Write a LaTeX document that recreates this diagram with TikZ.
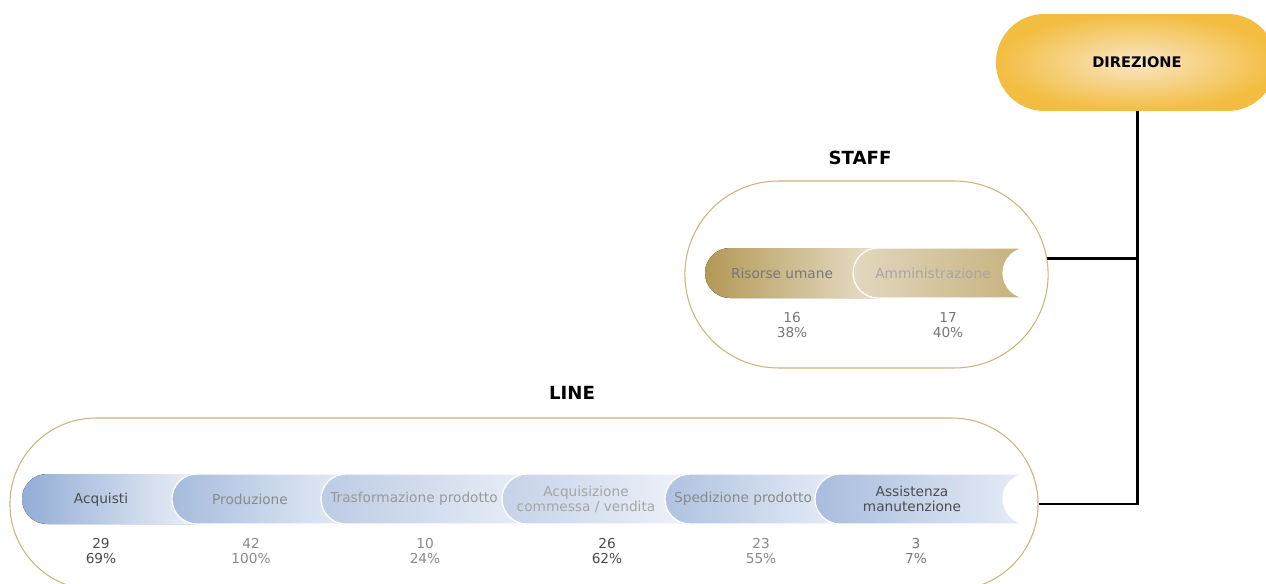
\documentclass[tikz,border=0pt]{standalone}
\usepackage{fontspec}
\setmainfont{DejaVu Sans}
\usetikzlibrary{shapes.misc}

\definecolor{gold}{HTML}{F2BD40}
\definecolor{goldlight}{HTML}{FAE6C6}
\definecolor{rim}{HTML}{CDB57A}
\definecolor{darktext}{HTML}{4D4D4D}
\definecolor{graytext}{HTML}{777777}
\definecolor{midtext}{HTML}{8A8A8A}
\definecolor{lighttext}{HTML}{999999}
\definecolor{palettext}{HTML}{A6A6A6}
% staff bars
\definecolor{risorseleft}{HTML}{B39956}
\definecolor{risorseright}{HTML}{E9E0CC}
\definecolor{amminleft}{HTML}{E2D8C0}
\definecolor{amminright}{HTML}{C6B07A}
% line bars
\definecolor{acqleft}{HTML}{93ADD6}
\definecolor{acqright}{HTML}{EDF1F8}
\definecolor{prodleft}{HTML}{A6BBDD}
\definecolor{prodright}{HTML}{E6ECF6}
\definecolor{trasfleft}{HTML}{BDCBE4}
\definecolor{trasfright}{HTML}{E9EEF7}
\definecolor{acqcommleft}{HTML}{C6D2E8}
\definecolor{acqcommright}{HTML}{EEF2F9}
\definecolor{spedleft}{HTML}{AFC2E0}
\definecolor{spedright}{HTML}{E6ECF6}
\definecolor{assistleft}{HTML}{A8BCDD}
\definecolor{assistright}{HTML}{E8EDF7}

\begin{document}
\begin{tikzpicture}[x=0.02cm,y=0.02cm]
		\tikzset{container/.style = {rounded rectangle, draw=rim, line width=0.6pt, fill=white}}
		\tikzset{seg/.style = {draw=white, line width=0.7pt}}
		\tikzset{bartext/.style = {font=\fontsize{7.8}{8.6}\selectfont, align=center}}
		\tikzset{figure/.style = {font=\fontsize{7.8}{8.6}\selectfont, align=center, text=midtext}}
		\tikzset{title/.style = {font=\bfseries\fontsize{10.3}{12}\selectfont}}

		\useasboundingbox (0,0) rectangle (1266,-584);

		\node[rounded rectangle, minimum width=5.84cm, minimum height=1.94cm, inner color=goldlight, outer color=gold] (dir) at (1136,-62.5) {};
		\node[font=\bfseries\fontsize{8.3}{10}\selectfont] (dirlabel) at (1137,-62) {DIREZIONE};

		\node[container, minimum width=7.5cm, minimum height=3.74cm] (staff) at (866.5,-274.5) {};
		\node[container, minimum width=20.8cm, minimum height=3.44cm] (line) at (524,-504) {};

		\node[title] (stafftitle) at (860,-158) {STAFF};
		\node[title] (linetitle) at (572,-393) {LINE};

		\draw[line width=1.7pt] (dirlabel.south |- dir.south) -- (dirlabel.south |- line.east) -- (line.east);
		\draw[line width=1.7pt] (staff.5) -- (staff.5 -| dirlabel.south);

		% staff
		\fill[left color=risorseleft, right color=risorseright] (730,-248) arc[start angle=90,end angle=270,radius=25] -- (880,-298) -- (880,-248) -- cycle;
		\draw[seg, left color=amminleft, right color=amminright] (878,-248) arc[start angle=90,end angle=270,radius=25] -- (1028,-298) arc[start angle=270,end angle=90,radius=25] -- cycle;

		\node[bartext, text=graytext] (risorse) at (782,-273) {Risorse umane};
		\node[bartext, text=palettext] (ammin) at (933,-273) {Amministrazione};
		\node[figure, text=graytext] (risorsenum) at (792,-325) {16\\38\%};
		\node[figure, text=graytext] (amminnum) at (948,-325) {17\\40\%};

		% line
		\fill[left color=acqleft, right color=acqright] (47,-474) arc[start angle=90,end angle=270,radius=25] -- (200,-524) -- (200,-474) -- cycle;
		\draw[seg, left color=prodleft, right color=prodright] (197,-474) arc[start angle=90,end angle=270,radius=25] -- (350,-524) -- (350,-474) -- cycle;
		\draw[seg, left color=trasfleft, right color=trasfright] (346,-474) arc[start angle=90,end angle=270,radius=25] -- (530,-524) -- (530,-474) -- cycle;
		\draw[seg, left color=acqcommleft, right color=acqcommright] (527,-474) arc[start angle=90,end angle=270,radius=25] -- (690,-524) -- (690,-474) -- cycle;
		\draw[seg, left color=spedleft, right color=spedright] (690,-474) arc[start angle=90,end angle=270,radius=25] -- (840,-524) -- (840,-474) -- cycle;
		\draw[seg, left color=assistleft, right color=assistright] (840,-474) arc[start angle=90,end angle=270,radius=25] -- (1028,-524) arc[start angle=270,end angle=90,radius=25] -- cycle;

		\node[bartext, text=darktext] (acq) at (101,-500) {Acquisti};
		\node[bartext, text=midtext] (prod) at (250,-499) {Produzione};
		\node[bartext, text=lighttext] (trasf) at (414,-499) {Trasformazione prodotto};
		\node[bartext, text=palettext] (acqcomm) at (586,-499) {Acquisizione\\commessa / vendita};
		\node[bartext, text=midtext] (sped) at (743,-499) {Spedizione prodotto};
		\node[bartext, text=darktext] (assist) at (912,-499) {Assistenza\\manutenzione};

		\node[figure, text=darktext] (acqnum) at (101,-551) {29\\69\%};
		\node[figure] (prodnum) at (251,-551) {42\\100\%};
		\node[figure] (trasfnum) at (425,-551) {10\\24\%};
		\node[figure, text=darktext] (acqcommnum) at (607,-551) {26\\62\%};
		\node[figure] (spednum) at (761,-551) {23\\55\%};
		\node[figure, text=graytext] (assistnum) at (916,-551) {3\\7\%};

	\end{tikzpicture}
\end{document}
